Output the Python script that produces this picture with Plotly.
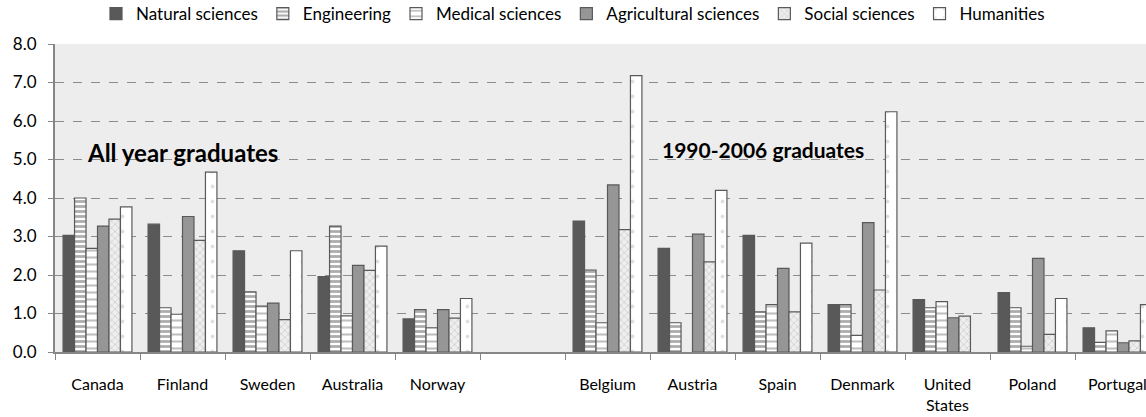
import plotly.graph_objects as go

categories = ["Canada", "Finland", "Sweden", "Australia", "Norway", " ",
              "Belgium", "Austria", "Spain", "Denmark", "United<br>States", "Poland", "Portugal"]

natural      = [3.03, 3.32, 2.63, 1.96, 0.86, None, 3.40, 2.69, 3.03, 1.23, 1.36, 1.54, 0.63]
engineering  = [4.00, 1.15, 1.56, 3.27, 1.10, None, 2.13, 0.76, 1.04, 1.23, 1.15, 1.15, 0.25]
medical      = [2.69, 0.98, 1.19, 0.94, 0.63, None, 0.76, None, 1.23, 0.43, 1.31, 0.15, 0.55]
agricultural = [3.27, 3.52, 1.27, 2.25, 1.10, None, 4.34, 3.06, 2.17, 3.36, 0.89, 2.43, 0.24]
social       = [3.45, 2.90, 0.84, 2.12, 0.88, None, 3.18, 2.34, 1.04, 1.61, 0.93, 0.46, 0.29]
humanities   = [3.77, 4.67, 2.63, 2.75, 1.39, None, 7.18, 4.20, 2.83, 6.24, None, 1.39, 1.23]

series_names = ["Natural sciences", "Engineering", "Medical sciences",
                "Agricultural sciences", "Social sciences", "Humanities"]
series_values = [natural, engineering, medical, agricultural, social, humanities]

styles = [
    dict(color="#595959", pattern=dict(shape="")),
    dict(color="white", pattern=dict(shape="-", fgcolor="#595959", bgcolor="white", size=5, solidity=0.55, fillmode="overlay")),
    dict(color="white", pattern=dict(shape="-", fgcolor="#7f7f7f", bgcolor="white", size=7, solidity=0.3, fillmode="overlay")),
    dict(color="#969696", pattern=dict(shape="")),
    dict(color="#e6e6e6", pattern=dict(shape="x", fgcolor="#a6a6a6", bgcolor="#eeeeee", size=5, solidity=0.25, fillmode="overlay")),
    dict(color="white", pattern=dict(shape=".", fgcolor="#bfbfbf", bgcolor="white", size=15, solidity=0.05, fillmode="overlay")),
]

fig = go.Figure()
for name, vals, st in zip(series_names, series_values, styles):
    fig.add_trace(go.Bar(
        name=name, x=categories, y=vals,
        marker=dict(color=st["color"], pattern=st["pattern"],
                    line=dict(color="#595959", width=1.2)),
    ))

font_family = "Lato, 'Open Sans', sans-serif"

W, H = 1146, 417
left, top, bottom = 55, 44, 65
plot_h = H - top - bottom
plot_w = W - left

fig.update_layout(
    width=W, height=H,
    margin=dict(l=left, r=0, t=top, b=bottom, autoexpand=False),
    paper_bgcolor="white",
    plot_bgcolor="#ededed",
    barmode="group",
    bargap=0.19,
    bargroupgap=0,
    font=dict(family=font_family, size=17, color="black"),
    legend=dict(orientation="h", xref="container", x=0.5, xanchor="center",
                yref="paper", y=1 + (top + 4) / plot_h, yanchor="top",
                font=dict(size=17), itemwidth=30, traceorder="normal",
                bgcolor="rgba(0,0,0,0)"),
    showlegend=True,
)

fig.update_xaxes(
    type="category",
    range=[-0.5, -0.5 + plot_w / 85.0],
    tickson="boundaries",
    ticks="outside", ticklen=6, tickcolor="#868686", tickwidth=1,
    showline=True, linecolor="#868686", linewidth=2,
    showgrid=False,
    tickfont=dict(size=16, color="black"),
    ticklabelstandoff=17,
    fixedrange=True,
)
fig.update_yaxes(
    range=[0, 8], dtick=1, tickformat=".1f",
    ticks="outside", ticklen=5, tickcolor="#868686",
    showline=True, linecolor="#868686", linewidth=2,
    showgrid=True, gridcolor="#8c8c8c", griddash="dash", gridwidth=1,
    zeroline=False,
    ticklabelstandoff=8,
    tickfont=dict(size=17, color="black"),
)

fig.add_annotation(text="<b>All year graduates</b>", xref="paper", yref="y",
                   x=(85 - 55) / plot_w, y=5.17, xanchor="left", yanchor="middle",
                   showarrow=False, font=dict(size=24, color="black", family=font_family))
fig.add_annotation(text="<b>1990-2006 graduates</b>", xref="paper", yref="y",
                   x=(660 - 55) / plot_w, y=5.25, xanchor="left", yanchor="middle",
                   showarrow=False, font=dict(size=21, color="black", family=font_family))

fig.write_html("out.html", config={"displayModeBar": False},
               post_script="document.body.style.margin='0px';")
